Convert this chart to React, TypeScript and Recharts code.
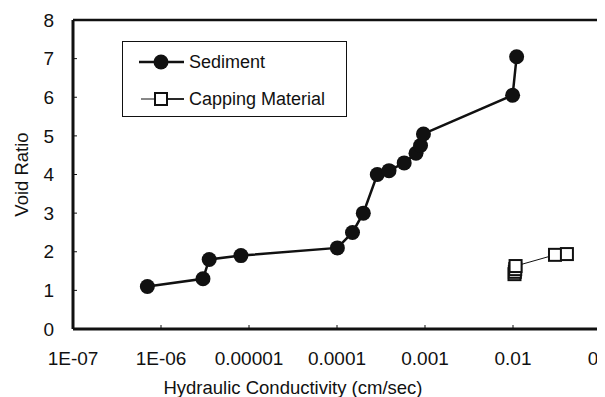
import React from 'react';
import { LineChart, Line, XAxis, YAxis, ReferenceLine, Legend, Label } from 'recharts';

const xTicks = [1e-7, 1e-6, 1e-5, 1e-4, 1e-3, 1e-2, 1e-1];
const xTickLabels = ['1E-07', '1E-06', '0.00001', '0.0001', '0.001', '0.01', '0.1'];
const yTicks = [0, 1, 2, 3, 4, 5, 6, 7, 8];

const seriesNames = ['Sediment', 'Capping Material'];

const sedimentK = [7.0e-7, 3.0e-6, 3.53e-6, 8.1e-6, 1.01e-4, 1.5e-4, 1.99e-4, 2.87e-4, 3.9e-4, 5.8e-4, 7.9e-4, 8.9e-4, 9.6e-4, 0.0099, 0.011];
const sedimentE = [1.1, 1.3, 1.8, 1.9, 2.1, 2.5, 3.0, 4.0, 4.1, 4.3, 4.55, 4.75, 5.05, 6.05, 7.05];

const cappingK = [0.0104, 0.0105, 0.0106, 0.0107, 0.030, 0.041];
const cappingE = [1.42, 1.48, 1.55, 1.63, 1.92, 1.94];

const sedimentData = sedimentK.map((k, i) => ({ k, e: sedimentE[i] }));
const cappingData = cappingK.map((k, i) => ({ k, e: cappingE[i] }));

const FONT = '"Liberation Sans", Arial, sans-serif';
const INK = '#111';

const SquareDot = (props: any) => {
  const { cx, cy, index } = props;
  if (cx == null || cy == null) return null;
  return <rect key={`sq-${index}`} x={cx - 6} y={cy - 6} width={12} height={12} fill="#fff" stroke={INK} strokeWidth={2} />;
};

const LegendBox = () => (
  <div style={{ width: 225, height: 76, border: `1px solid ${INK}`, background: '#fff', boxSizing: 'border-box', fontFamily: FONT, fontSize: 18, color: INK, position: 'relative' }}>
    <div style={{ position: 'absolute', left: 16, top: 9, display: 'flex', alignItems: 'center', height: 22 }}>
      <svg width={46} height={22} style={{ display: 'block' }}>
        <line x1={0} y1={11} x2={45} y2={11} stroke={INK} strokeWidth={2.5} />
        <circle cx={22} cy={11} r={7.5} fill={INK} />
      </svg>
      <span style={{ marginLeft: 4 }}>{seriesNames[0]}</span>
    </div>
    <div style={{ position: 'absolute', left: 16, top: 46, display: 'flex', alignItems: 'center', height: 22 }}>
      <svg width={46} height={22} style={{ display: 'block' }}>
        <line x1={2} y1={11} x2={16} y2={11} stroke={INK} strokeWidth={1} />
        <line x1={28} y1={11} x2={45} y2={11} stroke={INK} strokeWidth={1.8} />
        <rect x={16} y={5} width={12} height={12} fill="#fff" stroke={INK} strokeWidth={2} />
      </svg>
      <span style={{ marginLeft: 4 }}>{seriesNames[1]}</span>
    </div>
  </div>
);

export default function App() {
  return (
    <div style={{ marginLeft: -8, marginTop: -8, width: 605, height: 397, overflow: 'hidden', background: '#fff' }}>
      <LineChart width={640} height={397} margin={{ top: 20, right: 39, bottom: 28, left: 23 }}>
        <XAxis
          dataKey="k"
          type="number"
          scale="log"
          domain={[1e-7, 0.1]}
          ticks={xTicks}
          allowDataOverflow
          tickFormatter={(v: number) => xTickLabels[xTicks.indexOf(v)] ?? ''}
          axisLine={{ stroke: INK, strokeWidth: 3 }}
          tickLine={{ stroke: INK, strokeWidth: 1 }}
          tickSize={-4}
          tickMargin={27}
          height={40}
          tick={{ fill: INK, fontSize: 19, fontFamily: FONT }}
          interval={0}
        >
          <Label
            content={(p: any) => {
              const vb = p.viewBox;
              return (
                <text x={vb.x + vb.width / 2 - 44} y={vb.y + 65} textAnchor="middle" fill={INK} fontSize={18.5} fontFamily={FONT}>
                  Hydraulic Conductivity (cm/sec)
                </text>
              );
            }}
          />
        </XAxis>
        <YAxis
          type="number"
          domain={[0, 8]}
          ticks={yTicks}
          width={50}
          axisLine={{ stroke: INK, strokeWidth: 3 }}
          tickLine={{ stroke: INK, strokeWidth: 1 }}
          tickSize={-4}
          tickMargin={23}
          tick={{ fill: INK, fontSize: 19, fontFamily: FONT }}
          interval={0}
        >
          <Label
            content={(p: any) => {
              const vb = p.viewBox;
              const cx = 21;
              const cy = vb.y + vb.height / 2;
              return (
                <text x={cx} y={cy} textAnchor="middle" dominantBaseline="central" transform={`rotate(-90, ${cx}, ${cy})`} fill={INK} fontSize={18.5} fontFamily={FONT}>
                  Void Ratio
                </text>
              );
            }}
          />
        </YAxis>
        <ReferenceLine y={8} stroke={INK} strokeWidth={2.5} />
        <ReferenceLine x={0.1} stroke={INK} strokeWidth={3} />
        <Line
          data={sedimentData}
          dataKey="e"
          name={seriesNames[0]}
          stroke={INK}
          strokeWidth={2.5}
          dot={{ r: 7.5, fill: INK, stroke: INK, strokeWidth: 0 }}
          isAnimationActive={false}
          legendType="circle"
        />
        <Line
          data={cappingData}
          dataKey="e"
          name={seriesNames[1]}
          stroke={INK}
          strokeWidth={1}
          dot={<SquareDot />}
          isAnimationActive={false}
          legendType="square"
        />
        <Legend
          layout="vertical"
          align="center"
          verticalAlign="middle"
          content={() => <LegendBox />}
          wrapperStyle={{ position: 'absolute', left: 122, top: 41, width: 226, height: 77 }}
        />
      </LineChart>
    </div>
  );
}
